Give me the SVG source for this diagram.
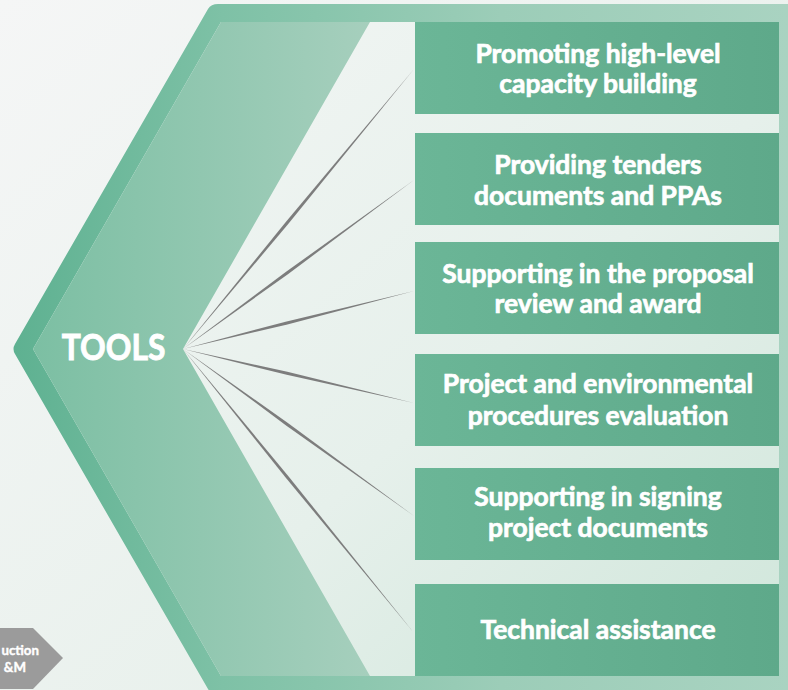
<svg xmlns="http://www.w3.org/2000/svg" width="788" height="690" viewBox="0 0 788 690">
<defs>
<linearGradient id="bg" x1="0" y1="0" x2="1" y2="1">
<stop offset="0" stop-color="#f5f6f6"/>
<stop offset="1" stop-color="#e2eee7"/>
</linearGradient>
<linearGradient id="frame" gradientUnits="userSpaceOnUse" x1="13" y1="0" x2="788" y2="0">
<stop offset="0" stop-color="#5eb191"/>
<stop offset="0.27" stop-color="#7ec1a6"/>
<stop offset="0.63" stop-color="#9ccdb8"/>
<stop offset="1" stop-color="#a9d3c1"/>
</linearGradient>
<linearGradient id="inner" gradientUnits="userSpaceOnUse" x1="200" y1="30" x2="788" y2="680">
<stop offset="0" stop-color="#f1f5f3"/>
<stop offset="0.5" stop-color="#e6f0eb"/>
<stop offset="1" stop-color="#cfe6da"/>
</linearGradient>
<linearGradient id="band" gradientUnits="userSpaceOnUse" x1="33" y1="0" x2="370" y2="0">
<stop offset="0" stop-color="#7cbfa3"/>
<stop offset="1" stop-color="#a6cfbd"/>
</linearGradient>
<linearGradient id="box" gradientUnits="userSpaceOnUse" x1="415" y1="0" x2="779" y2="0">
<stop offset="0" stop-color="#6bb697"/>
<stop offset="1" stop-color="#5ea98a"/>
</linearGradient>
<style>
.box{fill:url(#box);}
.lbl{font-family:Lato,"Liberation Sans",sans-serif;font-weight:700;font-size:27px;fill:#ffffff;stroke:#ffffff;stroke-width:0.7px;text-anchor:middle;}
.tools{font-family:Lato,"Liberation Sans",sans-serif;font-weight:700;font-size:37px;fill:#ffffff;stroke:#ffffff;stroke-width:0.9px;text-anchor:middle;}
.tag{font-family:Lato,"Liberation Sans",sans-serif;font-weight:700;font-size:14px;fill:#ffffff;stroke:#ffffff;stroke-width:0.4px;text-anchor:end;}
.ray{fill:#7d7d7d;}
</style>
</defs>
<rect x="0" y="0" width="788" height="690" fill="url(#bg)"/>
<path d="M218,4 L800,4 L800,694 L218,694 Q211,694 208,689 L15,354 Q12,349 15,344 L208,9 Q211,4 218,4 Z" fill="url(#frame)"/>
<path d="M221,22 L779,22 L779,676 L221,676 L33,349 Z" fill="url(#inner)"/>
<path d="M221,22 L370,22 L183,349 L370,676 L221,676 L33,349 Z" fill="url(#band)"/>
<g id="tag">
<path d="M0,628 L33,628 L63,658 L33,689 L0,689 Z" fill="#9b9b9b"/>
<text class="tag" transform="translate(39,655) scale(0.95,1)" x="0" y="0">uction</text>
<text class="tag" transform="translate(26,672) scale(0.95,1)" x="0" y="0">&amp;M</text>
</g>
<g id="connectors">
<polygon class="ray" points="183,349 288.2,224.0 414,69 285.8,222.0"/>
<polygon class="ray" points="183,349 287.9,274.2 414,180 286.1,271.8"/>
<polygon class="ray" points="183,349 287.4,324.4 414,291 286.6,321.4"/>
<polygon class="ray" points="183,349 286.7,374.8 414,403 287.3,371.8"/>
<polygon class="ray" points="183,349 286.1,425.4 414,516 287.9,423.0"/>
<polygon class="ray" points="183,349 285.8,477.7 414,633 288.2,475.9"/>
</g>
<g id="node-tools">
<text class="tools" transform="translate(113.5,360) scale(0.86,1)" x="0" y="0">TOOLS</text>
</g>
<g id="node-1">
<rect class="box" x="415" y="22" width="364" height="92"/>
<text class="lbl" transform="translate(598,63) scale(0.98,1)" x="0" y="0">Promoting high-level</text>
<text class="lbl" transform="translate(598,93) scale(0.98,1)" x="0" y="0">capacity building</text>
</g>
<g id="node-2">
<rect class="box" x="415" y="133" width="364" height="92"/>
<text class="lbl" transform="translate(598,174) scale(0.98,1)" x="0" y="0">Providing tenders</text>
<text class="lbl" transform="translate(598,205) scale(0.98,1)" x="0" y="0">documents and PPAs</text>
</g>
<g id="node-3">
<rect class="box" x="415" y="242" width="364" height="92"/>
<text class="lbl" transform="translate(598,283) scale(0.98,1)" x="0" y="0">Supporting in the proposal</text>
<text class="lbl" transform="translate(598,313) scale(0.98,1)" x="0" y="0">review and award</text>
</g>
<g id="node-4">
<rect class="box" x="415" y="354" width="364" height="92"/>
<text class="lbl" transform="translate(598,393) scale(0.98,1)" x="0" y="0">Project and environmental</text>
<text class="lbl" transform="translate(598,425) scale(0.98,1)" x="0" y="0">procedures evaluation</text>
</g>
<g id="node-5">
<rect class="box" x="415" y="468" width="364" height="92"/>
<text class="lbl" transform="translate(598,506) scale(0.98,1)" x="0" y="0">Supporting in signing</text>
<text class="lbl" transform="translate(598,537) scale(0.98,1)" x="0" y="0">project documents</text>
</g>
<g id="node-6">
<rect class="box" x="415" y="584" width="364" height="92"/>
<text class="lbl" transform="translate(598,639) scale(0.98,1)" x="0" y="0">Technical assistance</text>
</g>
</svg>
